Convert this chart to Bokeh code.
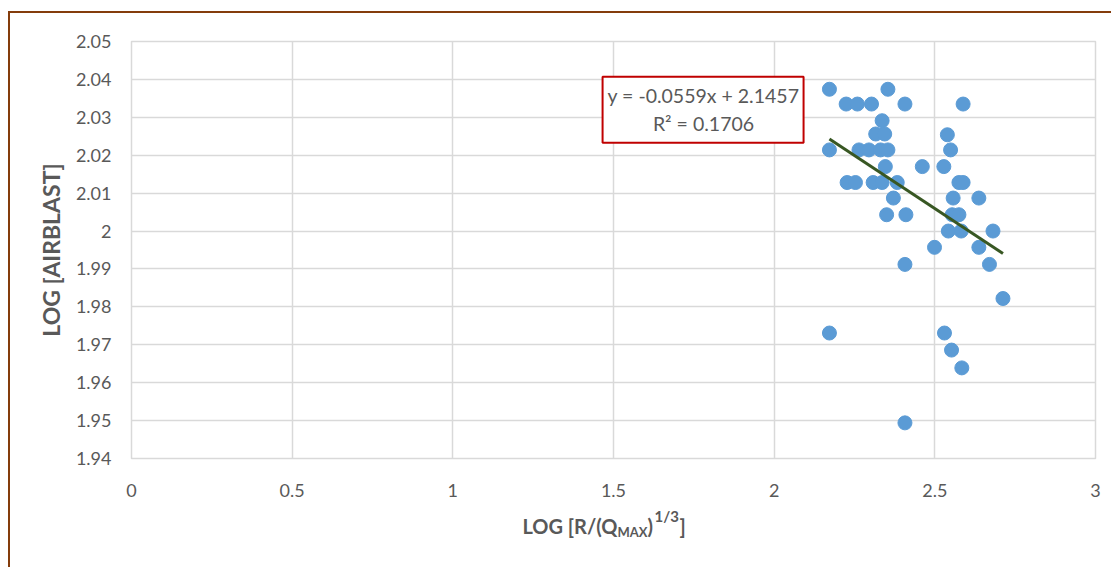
from bokeh.plotting import figure
from bokeh.models import Range1d, FixedTicker, Label, BoxAnnotation
from bokeh.layouts import column
from bokeh.embed import file_html
from bokeh.resources import INLINE

# ---- data ----
log_r = [2.172, 2.224, 2.259, 2.303, 2.354, 2.407, 2.588, 2.336, 2.316, 2.344,
         2.539, 2.172, 2.264, 2.295, 2.331, 2.354, 2.549, 2.346, 2.461, 2.528,
         2.227, 2.253, 2.308, 2.336, 2.383, 2.575, 2.588, 2.371, 2.557, 2.637,
         2.350, 2.410, 2.554, 2.575, 2.542, 2.582, 2.681, 2.499, 2.637, 2.407,
         2.670, 2.712, 2.172, 2.530, 2.552, 2.584, 2.407]
log_airblast = [2.0374, 2.0335, 2.0335, 2.0335, 2.0374, 2.0335, 2.0335, 2.0291, 2.0256, 2.0256,
                2.0254, 2.0214, 2.0214, 2.0214, 2.0214, 2.0214, 2.0214, 2.0170, 2.0170, 2.0170,
                2.0128, 2.0128, 2.0128, 2.0128, 2.0128, 2.0128, 2.0128, 2.0087, 2.0087, 2.0087,
                2.0043, 2.0043, 2.0043, 2.0043, 2.0000, 2.0000, 2.0000, 1.9957, 1.9957, 1.9912,
                1.9912, 1.9822, 1.9731, 1.9731, 1.9686, 1.9639, 1.9494]
slope = -0.0559
intercept = 2.1457
r_squared = 0.1706
x_ticks = [0, 0.5, 1, 1.5, 2, 2.5, 3]
x_tick_labels = ["0", "0.5", "1", "1.5", "2", "2.5", "3"]
y_ticks = [1.94, 1.95, 1.96, 1.97, 1.98, 1.99, 2.0, 2.01, 2.02, 2.03, 2.04, 2.05]
y_tick_labels = ["1.94", "1.95", "1.96", "1.97", "1.98", "1.99", "2", "2.01", "2.02", "2.03", "2.04", "2.05"]

FONT = "Lato"
GRAY = "#595959"
GRID = "#D9D9D9"
BROWN = "#843C0C"

# layout geometry (page pixels)
BX, BY = 10, 13                    # inner corner of the brown chart border
TOTAL_W, TOTAL_H = 1111, 567
FRAME_L, FRAME_R, FRAME_T, FRAME_B = 131, 1095, 41, 458
STRIP_TOP = 505
MAIN_H = STRIP_TOP - BY
STRIP_H = TOTAL_H - STRIP_TOP
FIG_W = TOTAL_W - BX

p = figure(width=FIG_W, height=MAIN_H, output_backend="svg", toolbar_location=None,
           x_range=Range1d(0, 3), y_range=Range1d(1.94, 2.05),
           min_border_left=FRAME_L - BX, min_border_right=TOTAL_W - FRAME_R,
           min_border_top=FRAME_T - BY, min_border_bottom=STRIP_TOP - FRAME_B)
p.outline_line_color = GRID
p.outline_line_width = 1.5
p.background_fill_color = "white"
p.border_fill_color = "white"

for ax in (p.xaxis[0], p.yaxis[0]):
    ax.axis_line_color = None
    ax.major_tick_line_color = None
    ax.minor_tick_line_color = None
    ax.major_label_text_font = FONT
    ax.major_label_text_font_size = "18px"
    ax.major_label_text_color = GRAY

p.xaxis.ticker = FixedTicker(ticks=x_ticks)
p.yaxis.ticker = FixedTicker(ticks=y_ticks)
p.xaxis.major_label_overrides = {t: s for t, s in zip(x_ticks, x_tick_labels)}
p.yaxis.major_label_overrides = {t: s for t, s in zip(y_ticks, y_tick_labels)}
p.xaxis.major_label_standoff = 19
p.yaxis.major_label_standoff = 14

p.yaxis.axis_label = "LOG [AIRBLAST]"
p.yaxis.axis_label_text_font = FONT
p.yaxis.axis_label_text_font_style = "bold"
p.yaxis.axis_label_text_font_size = "23px"
p.yaxis.axis_label_text_color = GRAY
p.yaxis.axis_label_standoff = 8

p.xgrid.grid_line_color = GRID
p.ygrid.grid_line_color = GRID
p.xgrid.grid_line_width = 1.5
p.ygrid.grid_line_width = 1.5

# scatter points
p.scatter(log_r, log_airblast, size=14, fill_color="#5B9BD5", line_color="#5B9BD5")

# linear trendline over the data span
x0, x1 = min(log_r), max(log_r)
p.line([x0, x1], [slope * x0 + intercept, slope * x1 + intercept], line_color="#385723", line_width=3)

# equation box
p.add_layout(BoxAnnotation(left=1.466, right=2.0915, top=2.0407, bottom=2.0233,
                           fill_color="white", fill_alpha=1.0,
                           line_color="#C00000", line_alpha=1.0, line_width=2))
eq_text = "y = %.4fx + %.4f" % (slope, intercept)
p.add_layout(Label(x=1.78, y=2.0357, text=eq_text, text_align="center", text_baseline="middle",
                   text_font=FONT, text_font_size="19.5px", text_color=GRAY))
p.add_layout(Label(x=1.78, y=2.0283, text="R\u00b2 = %.4f" % r_squared, text_align="center",
                   text_baseline="middle", text_font=FONT, text_font_size="19.5px", text_color=GRAY))

# strip below holding the x-axis title (with subscript / superscript);
# its frame is aligned with the main frame, so x is in page pixels
s = figure(width=FIG_W, height=STRIP_H, output_backend="svg", toolbar_location=None,
           x_range=Range1d(FRAME_L, FRAME_R), y_range=Range1d(0, STRIP_H),
           min_border_left=FRAME_L - BX, min_border_right=TOTAL_W - FRAME_R,
           min_border_top=0, min_border_bottom=0,
           x_axis_type=None, y_axis_type=None)
s.outline_line_color = None
s.xgrid.visible = False
s.ygrid.visible = False
s.background_fill_color = "white"
s.border_fill_color = "white"

def sy(page_y):
    return TOTAL_H - page_y

title_style = dict(text_font=FONT, text_font_style="bold", text_color=GRAY, text_baseline="middle")
s.add_layout(Label(x=617, y=sy(525), text="LOG [R/(Q", text_align="right",
                   text_font_size="20px", **title_style))
s.add_layout(Label(x=617, y=sy(531), text="MAX", text_align="left",
                   text_font_size="13px", **title_style))
s.add_layout(Label(x=647, y=sy(525), text=")", text_align="left",
                   text_font_size="20px", **title_style))
s.add_layout(Label(x=654, y=sy(515), text="1/3", text_align="left",
                   text_font_size="15px", **title_style))
s.add_layout(Label(x=679, y=sy(525), text="]", text_align="left",
                   text_font_size="20px", **title_style))

layout = column(p, s, spacing=0)
layout.styles = {"border-left": "2px solid " + BROWN, "border-top": "2px solid " + BROWN,
                 "margin-left": "8px", "margin-top": "11px"}

open("out.html", "w").write(file_html(layout, INLINE))
